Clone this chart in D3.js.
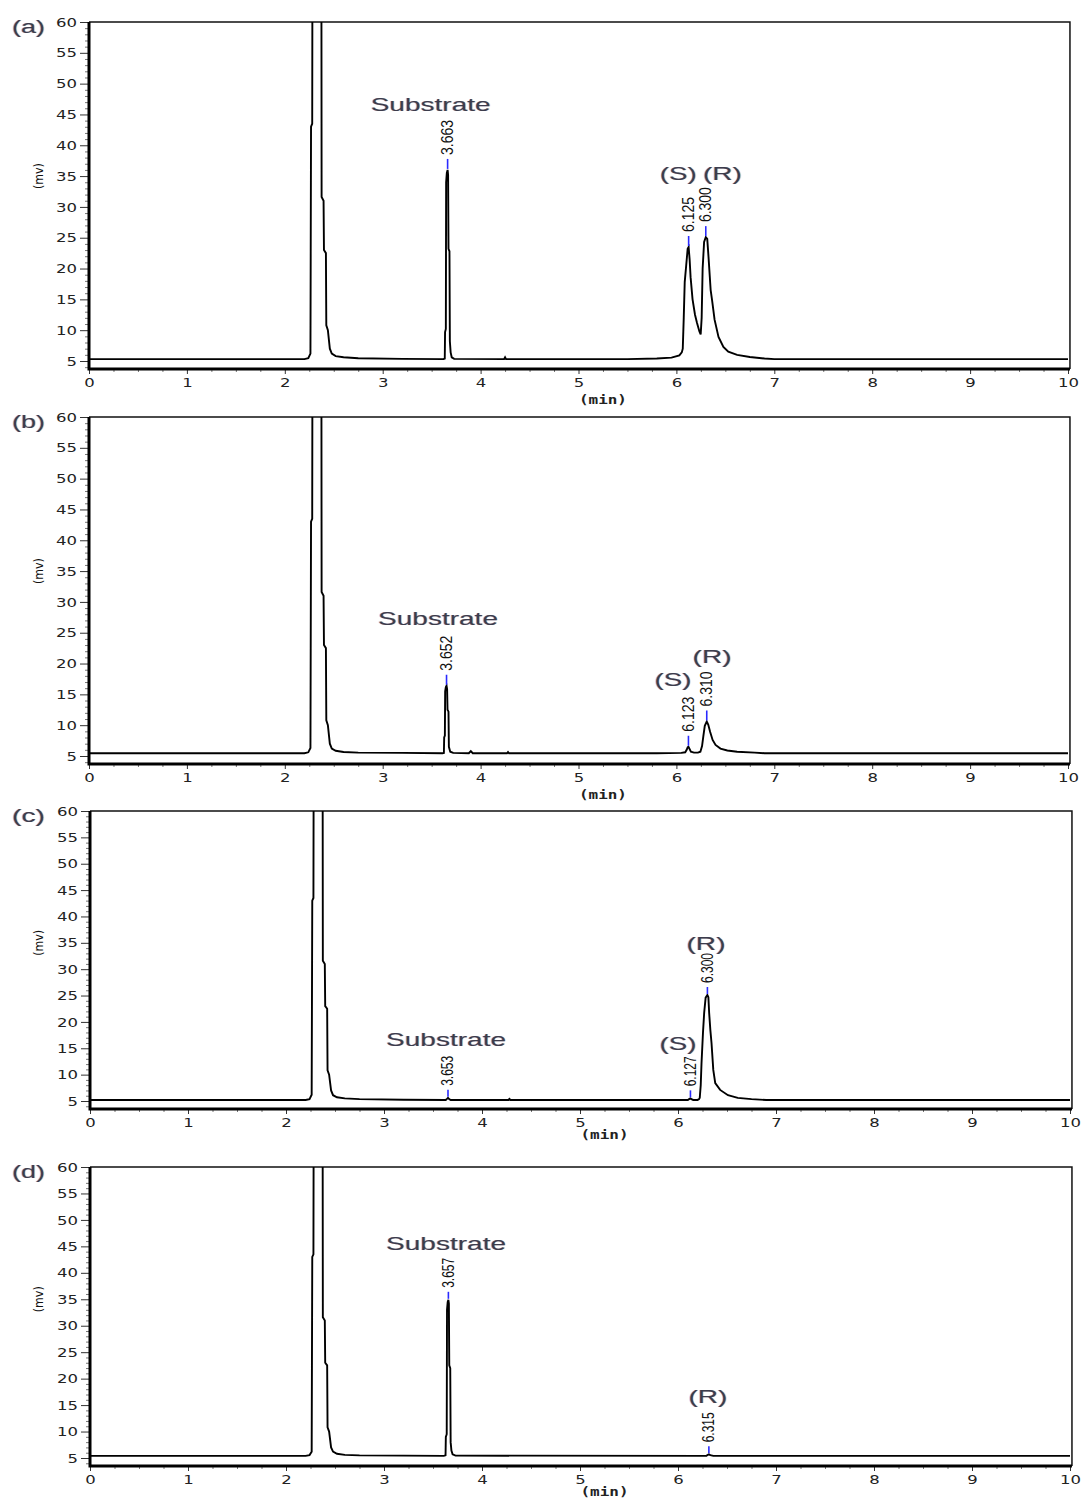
<!DOCTYPE html>
<html>
<head>
<meta charset="utf-8">
<title>Chiral HPLC chromatograms</title>
<script src="https://cdn.jsdelivr.net/npm/d3@7"></script>
<style>
  body { margin: 0; background: #fff; }
  svg { display: block; }
  .tick text { font-family: "DejaVu Sans", Arial, sans-serif; font-size: 13px; fill: #222; }
  .anno { font-family: "Liberation Sans", Arial, sans-serif; font-size: 19px; fill: #3c3c4c;
          text-shadow: -0.6px 0 rgba(70,90,220,0.35), 0.6px 0 rgba(215,145,40,0.35); }
  .rt { font-family: "Liberation Sans Narrow", "Liberation Sans", Arial, sans-serif; font-size: 16px; fill: #111; }
</style>
</head>
<body>
<svg id="chart" width="1083" height="1500"></svg>
<script>
// ---- axis ticks ----
const timeTicks = [0, 1, 2, 3, 4, 5, 6, 7, 8, 9, 10];
const timeTickLabels = ["0", "1", "2", "3", "4", "5", "6", "7", "8", "9", "10"];
const mvTicks = [5, 10, 15, 20, 25, 30, 35, 40, 45, 50, 55, 60];
const mvTickLabels = ["5", "10", "15", "20", "25", "30", "35", "40", "45", "50", "55", "60"];
const panelLetters = ["(a)", "(b)", "(c)", "(d)"];
const xAxisTitle = "(min)";
const yAxisTitle = "(mv)";

// ---- detector traces: [retention time (min), signal (mV)] ----
const traceA = [[0,5.3],[1.5,5.3],[2.2,5.3],[2.24,5.45],[2.262,6.2],[2.268,43],[2.28,43.5],[2.285,100],[2.33,260],[2.372,100],[2.376,31.6],[2.396,31],[2.4,23],[2.42,22.5],[2.424,10.8],[2.44,10],[2.46,7],[2.48,6.2],[2.52,5.8],[2.6,5.6],[2.75,5.45],[3.2,5.35],[3.62,5.3],[3.634,5.4],[3.637,9.7],[3.645,10.2],[3.648,34],[3.655,35.5],[3.663,36.0],[3.668,35.2],[3.672,23.2],[3.682,22.8],[3.686,8.2],[3.694,6.4],[3.705,5.6],[3.73,5.35],[4.24,5.3],[4.25,5.6],[4.26,5.3],[5.5,5.3],[5.8,5.4],[5.95,5.55],[6.03,5.9],[6.055,6.4],[6.065,7],[6.075,12],[6.085,17.8],[6.1,20.5],[6.115,23.2],[6.125,23.5],[6.135,21.5],[6.145,18.6],[6.165,15],[6.19,12.5],[6.21,11.2],[6.235,9.8],[6.248,9.3],[6.258,12],[6.268,20],[6.283,24.3],[6.3,25.1],[6.315,24.8],[6.328,21.9],[6.35,16.5],[6.365,14.8],[6.39,11.7],[6.43,8.9],[6.48,7.3],[6.53,6.5],[6.62,6.0],[6.75,5.65],[6.9,5.4],[7.0,5.3],[10,5.3]];

const traceB = [[0,5.45],[2.2,5.45],[2.24,5.6],[2.262,6.3],[2.268,43],[2.28,43.5],[2.285,100],[2.33,260],[2.372,100],[2.376,31.6],[2.396,31],[2.4,23],[2.42,22.5],[2.424,10.8],[2.44,10],[2.46,7],[2.48,6.2],[2.52,5.85],[2.6,5.65],[2.75,5.55],[3.2,5.5],[3.61,5.45],[3.625,5.5],[3.628,8],[3.635,8.3],[3.638,15.5],[3.645,16.2],[3.652,16.4],[3.658,15.8],[3.662,12.5],[3.672,12.2],[3.676,6.5],[3.69,5.7],[3.72,5.5],[3.88,5.45],[3.9,5.8],[3.92,5.45],[4.27,5.45],[4.28,5.65],[4.29,5.45],[5.8,5.45],[6.05,5.5],[6.09,5.6],[6.105,6.0],[6.115,6.4],[6.123,6.5],[6.133,6.2],[6.148,5.7],[6.18,5.55],[6.22,5.55],[6.245,5.7],[6.262,6.6],[6.275,8.2],[6.29,9.9],[6.31,10.6],[6.325,10.1],[6.345,8.9],[6.37,7.6],[6.4,6.8],[6.45,6.2],[6.52,5.9],[6.62,5.7],[6.8,5.55],[6.9,5.45],[10,5.45]];

const traceC = [[0,5.2],[2.2,5.2],[2.24,5.35],[2.262,6.2],[2.268,43],[2.28,43.5],[2.285,100],[2.33,260],[2.372,100],[2.376,31.6],[2.396,31],[2.4,23],[2.42,22.5],[2.424,10.8],[2.44,10],[2.46,7],[2.48,6.1],[2.52,5.7],[2.6,5.5],[2.75,5.35],[3.2,5.25],[3.63,5.2],[3.645,5.45],[3.653,5.6],[3.662,5.4],[3.68,5.2],[4.27,5.2],[4.28,5.4],[4.29,5.2],[6.1,5.2],[6.117,5.4],[6.127,5.5],[6.137,5.35],[6.155,5.2],[6.2,5.2],[6.215,5.35],[6.222,5.6],[6.232,8],[6.24,12.2],[6.255,18],[6.267,21.7],[6.282,24.6],[6.3,25.1],[6.31,24.7],[6.318,21.7],[6.33,18.5],[6.342,16],[6.36,10.9],[6.38,8.4],[6.43,7.1],[6.51,6.1],[6.61,5.6],[6.75,5.35],[6.9,5.2],[10,5.2]];

const traceD = [[0,5.4],[2.2,5.4],[2.24,5.55],[2.262,6.2],[2.268,43],[2.28,43.5],[2.285,100],[2.33,260],[2.372,100],[2.376,31.6],[2.396,31],[2.4,23],[2.42,22.5],[2.424,10.8],[2.44,10],[2.46,7],[2.48,6.2],[2.52,5.8],[2.6,5.6],[2.75,5.5],[3.2,5.45],[3.61,5.4],[3.628,5.5],[3.631,9],[3.64,9.5],[3.643,33],[3.65,34.5],[3.657,34.9],[3.662,34.2],[3.666,22.5],[3.676,22],[3.68,8],[3.688,6.4],[3.7,5.7],[3.73,5.45],[6.29,5.4],[6.305,5.6],[6.315,5.7],[6.33,5.55],[6.36,5.4],[10,5.4]];

// ---- integrated peaks: retention time, apex height, printed label ----
const peaksA = [{t:3.663, v:36.0, label:"3.663"}, {t:6.125, v:23.5, label:"6.125"}, {t:6.300, v:25.1, label:"6.300"}];
const peaksB = [{t:3.652, v:16.4, label:"3.652"}, {t:6.123, v:6.5, label:"6.123"}, {t:6.310, v:10.6, label:"6.310"}];
const peaksC = [{t:3.653, v:5.6, label:"3.653"}, {t:6.127, v:5.5, label:"6.127"}, {t:6.300, v:25.1, label:"6.300"}];
const peaksD = [{t:3.657, v:34.9, label:"3.657"}, {t:6.315, v:5.7, label:"6.315"}];

// ---- compound annotations, anchored in (min, mV) ----
const notesA = [{text:"Substrate", t:3.49, v:45.6}, {text:"(S)", t:6.02, v:34.4}, {text:"(R)", t:6.47, v:34.4}];
const notesB = [{text:"Substrate", t:3.565, v:26.25}, {text:"(S)", t:5.965, v:16.4}, {text:"(R)", t:6.365, v:20.1}];
const notesC = [{text:"Substrate", t:3.633, v:15.4}, {text:"(S)", t:6.0, v:14.7}, {text:"(R)", t:6.286, v:33.6}];
const notesD = [{text:"Substrate", t:3.633, v:44.3}, {text:"(R)", t:6.306, v:15.4}];

const traces = [traceA, traceB, traceC, traceD];
const peaks = [peaksA, peaksB, peaksC, peaksD];
const notes = [notesA, notesB, notesC, notesD];

// ---- panel frames in page pixels; marker = blue tick length, label = printed time length ----
const frames = [
  {top: 22,   y5: 361,  bottom: 369,  x0: 89, x10: 1068, marker: 11, label: 35},
  {top: 417,  y5: 756,  bottom: 764,  x0: 89, x10: 1068, marker: 11, label: 35},
  {top: 811,  y5: 1101, bottom: 1109, x0: 90, x10: 1070, marker: 8,  label: 30},
  {top: 1167, y5: 1458, bottom: 1466, x0: 90, x10: 1070, marker: 8,  label: 30}
];

const noteWidth = {"Substrate": 120, "(S)": 37, "(R)": 39};

const svg = d3.select("#chart");

frames.forEach((f, i) => {
  const x = d3.scaleLinear().domain([0, 10]).range([f.x0, f.x10]);
  const y = d3.scaleLinear().domain([5, 60]).range([f.y5, f.top]);
  const right = x(10.02);
  const g = svg.append("g");

  // clip for the signal trace
  const clipId = "clip-" + i;
  g.append("clipPath").attr("id", clipId)
    .append("rect").attr("x", f.x0).attr("y", f.top)
    .attr("width", right - f.x0).attr("height", f.bottom - f.top);

  // thin top / right frame
  g.append("path")
    .attr("d", `M${f.x0},${f.top}H${right}V${f.bottom}`)
    .attr("fill", "none").attr("stroke", "#111").attr("stroke-width", 1.5);

  // y axis: minor ticks every 1 mV
  const minorY = d3.range(4, 60, 1).filter(v => v % 5 !== 0 && y(v) <= f.bottom);
  g.append("g").attr("transform", `translate(${f.x0},0)`)
    .call(d3.axisLeft(y).tickValues(minorY).tickSize(4).tickFormat(""))
    .call(s => s.select(".domain").remove())
    .call(s => s.selectAll("line").attr("stroke", "#777"));
  // y axis: major ticks
  g.append("g").attr("transform", `translate(${f.x0},0)`)
    .call(d3.axisLeft(y).tickValues(mvTicks).tickSize(9).tickPadding(3)
      .tickFormat((d, k) => mvTickLabels[k]))
    .call(s => s.select(".domain").remove())
    .call(s => s.selectAll("line").attr("stroke", "#333"))
    .call(s => s.selectAll("text").each(function() {
      const t = d3.select(this);
      t.attr("textLength", 10.5 * t.text().length).attr("lengthAdjust", "spacingAndGlyphs");
    }));

  // x axis: minor ticks every 0.25 min
  const minorX = d3.range(0.25, 10, 0.25).filter(v => Math.abs(v - Math.round(v)) > 1e-6);
  g.append("g").attr("transform", `translate(0,${f.bottom})`)
    .call(d3.axisBottom(x).tickValues(minorX).tickSize(3).tickFormat(""))
    .call(s => s.select(".domain").remove())
    .call(s => s.selectAll("line").attr("stroke", "#777"));
  // x axis: major ticks
  g.append("g").attr("transform", `translate(0,${f.bottom})`)
    .call(d3.axisBottom(x).tickValues(timeTicks).tickSize(5).tickPadding(4)
      .tickFormat((d, k) => timeTickLabels[k]))
    .call(s => s.select(".domain").remove())
    .call(s => s.selectAll("line").attr("stroke", "#333"))
    .call(s => s.selectAll("text").each(function() {
      const t = d3.select(this);
      t.attr("textLength", 10.5 * t.text().length).attr("lengthAdjust", "spacingAndGlyphs");
    }));

  // heavy left / bottom axis lines
  g.append("path")
    .attr("d", `M${f.x0},${f.top}V${f.bottom}H${right}`)
    .attr("fill", "none").attr("stroke", "#000").attr("stroke-width", 3);

  // signal trace
  const line = d3.line().x(d => x(d[0])).y(d => y(d[1]));
  g.append("path")
    .datum(traces[i])
    .attr("clip-path", `url(#${clipId})`)
    .attr("d", line)
    .attr("fill", "none").attr("stroke", "#000")
    .attr("stroke-width", 1.9).attr("stroke-linejoin", "miter");

  // retention-time markers and labels
  const pk = g.selectAll("g.peak").data(peaks[i]).join("g").attr("class", "peak");
  pk.append("line")
    .attr("x1", d => x(d.t)).attr("x2", d => x(d.t))
    .attr("y1", d => y(d.v) - 1).attr("y2", d => y(d.v) - f.marker)
    .attr("stroke", "#2a2aff").attr("stroke-width", 1.6);
  pk.append("text").attr("class", "rt")
    .attr("transform", d => `translate(${x(d.t) + 5.5},${y(d.v) - f.marker - 4}) rotate(-90)`)
    .attr("text-anchor", "start")
    .attr("textLength", f.label).attr("lengthAdjust", "spacingAndGlyphs")
    .text(d => d.label);

  // compound names
  g.selectAll("text.anno").data(notes[i]).join("text").attr("class", "anno")
    .attr("x", d => x(d.t)).attr("y", d => y(d.v))
    .attr("text-anchor", "middle")
    .attr("textLength", d => noteWidth[d.text]).attr("lengthAdjust", "spacingAndGlyphs")
    .text(d => d.text);

  // panel letter
  g.append("text").attr("class", "anno")
    .attr("x", 12).attr("y", f.top + 11)
    .attr("textLength", 33).attr("lengthAdjust", "spacingAndGlyphs")
    .style("font-size", "18px")
    .text(panelLetters[i]);

  // axis titles
  g.append("text")
    .attr("transform", `translate(${43},${y(35)}) rotate(-90)`)
    .attr("text-anchor", "middle")
    .attr("textLength", 26).attr("lengthAdjust", "spacingAndGlyphs")
    .style("font-family", "'DejaVu Sans', sans-serif").style("font-size", "12px").style("fill", "#111")
    .text(yAxisTitle);
  g.append("text")
    .attr("x", x(5.25)).attr("y", f.bottom + (i < 2 ? 35 : 30))
    .attr("text-anchor", "middle")
    .attr("textLength", 48).attr("lengthAdjust", "spacingAndGlyphs")
    .style("font-family", "'DejaVu Sans Mono', monospace").style("font-weight", "bold")
    .style("font-size", "12px").style("fill", "#222")
    .text(xAxisTitle);
});
</script>
</body>
</html>
